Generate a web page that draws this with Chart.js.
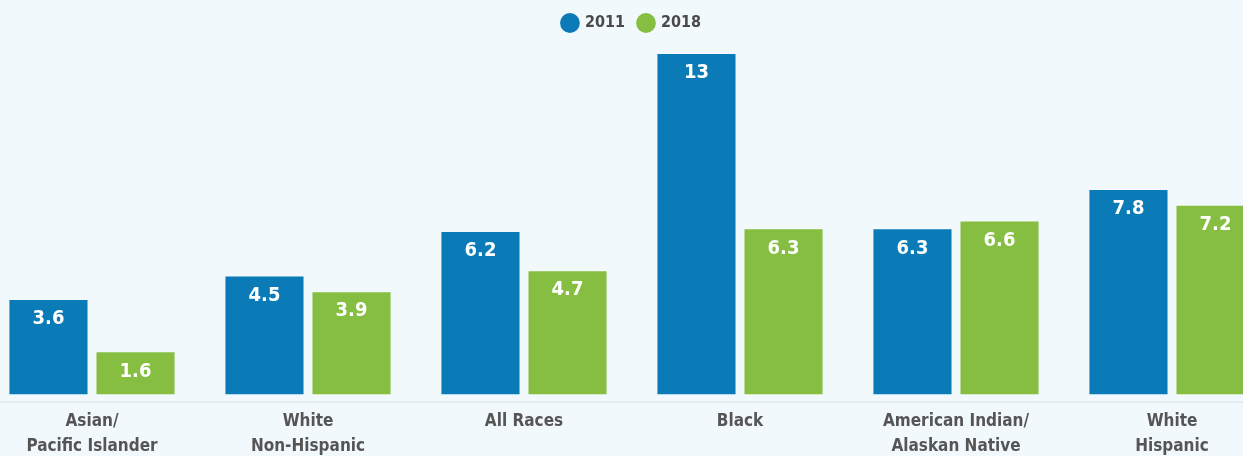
<!DOCTYPE html>
<html>
<head>
<meta charset="utf-8">
<script src="https://cdn.jsdelivr.net/npm/chart.js@4"></script>
<style>
  html, body { margin: 0; padding: 0; background: #f1f9fc; overflow: hidden; }
  #wrap { position: absolute; left: -16px; top: 0; width: 1296px; height: 458px; }
</style>
</head>
<body>
<div id="wrap"><canvas id="chart"></canvas></div>
<script>
const categories = [
  ["Asian/", "Pacific Islander"],
  ["White", "Non-Hispanic"],
  ["All Races"],
  ["Black"],
  ["American Indian/", "Alaskan Native"],
  ["White", "Hispanic"]
];
const values2011 = [3.6, 4.5, 6.2, 13, 6.3, 7.8];
const values2018 = [1.6, 3.9, 4.7, 6.3, 6.6, 7.2];

const fontFamily = '"Liberation Sans Narrow", "DejaVu Sans Condensed", sans-serif';

// white value labels inside the top of each bar
const barValues = {
  id: 'barValues',
  afterDatasetsDraw(chart) {
    const ctx = chart.ctx;
    ctx.save();
    ctx.fillStyle = '#ffffff';
    ctx.font = 'bold 20px ' + fontFamily;
    ctx.textAlign = 'center';
    ctx.textBaseline = 'middle';
    chart.data.datasets.forEach((ds, i) => {
      chart.getDatasetMeta(i).data.forEach((bar, j) => {
        ctx.fillText(String(ds.data[j]), bar.x, bar.y + 19);
      });
    });
    ctx.restore();
  }
};

new Chart(document.getElementById("chart").getContext("2d"), {
  type: 'bar',
  data: {
    labels: categories,
    datasets: [
      { label: '2011', data: values2011, backgroundColor: '#0b7bb8' },
      { label: '2018', data: values2018, backgroundColor: '#86be42' }
    ]
  },
  options: {
    responsive: true,
    maintainAspectRatio: false,
    animation: false,
    categoryPercentage: 0.806,
    barPercentage: 0.897,
    layout: { padding: { top: 1, bottom: 0, left: 0, right: 0 } },
    plugins: {
      legend: {
        position: 'top',
        labels: {
          usePointStyle: true,
          pointStyle: 'circle',
          boxWidth: 14,
          boxHeight: 14,
          padding: 14,
          color: '#4a4a4a',
          font: { family: fontFamily, size: 16, weight: 'bold' }
        }
      },
      tooltip: { enabled: false }
    },
    scales: {
      x: {
        grid: { display: false },
        border: { color: '#e3ebee', width: 2 },
        ticks: {
          color: '#555555',
          padding: -1,
          font: { family: fontFamily, size: 17, weight: 'bold', lineHeight: 1.47 }
        }
      },
      y: {
        display: false,
        min: -0.3,
        max: 13.5
      }
    }
  },
  plugins: [barValues]
});
</script>
</body>
</html>
